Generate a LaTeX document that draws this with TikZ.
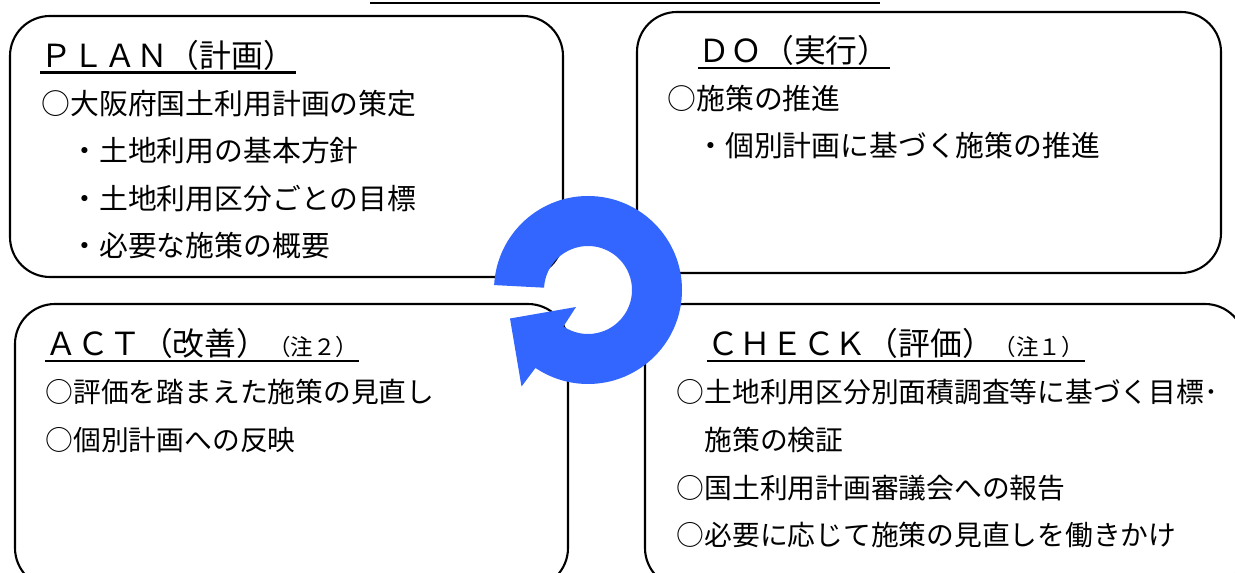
\documentclass[tikz,border=0pt]{standalone}
\usepackage{fontspec}
\setmainfont{Noto Sans CJK JP}
\definecolor{cycleBlue}{HTML}{3366FF}
\newcommand\remarkSize{\fontsize{12.8}{14}\selectfont}

\begin{document}
\begin{tikzpicture}[thick,
  box/.style={rectangle, draw, line width=1.2pt, rounded corners=0.8cm, inner sep=0pt},
  head/.style={rectangle, draw=none, inner sep=0pt, anchor=base west, font=\fontsize{18.1}{20}\selectfont},
  item/.style={rectangle, draw=none, inner sep=0pt, anchor=base west, font=\fontsize{16.4}{20}\selectfont},
  itemLow/.style={item, font=\fontsize{15.8}{19}\selectfont},
  underline/.style={line width=1.3pt}]
\useasboundingbox (0,0) rectangle (24.7,11.46);
%\draw[help lines, step=1cm] (0,0) grid +(24.7,11.46);
\draw[line width=1.5pt] (7.4,11.40) -- (17.6,11.40);
%%%%%%%%%%%%%%%%%%%%%%%%%%%%%%% PLAN
\node[box, minimum width=11.06cm, minimum height=5.22cm](boxPlan) at (5.73,8.53){};
\node[head](titlePlan) at (0.80,10.10){ＰＬＡＮ（計画）};
\draw[underline] ([yshift=-0.09cm]titlePlan.base west) -- ([yshift=-0.09cm]titlePlan.base east);
\node[item](planL1) at (0.82,9.17){○大阪府国土利用計画の策定};
\node[item](planL2) at (0.82,8.22){　・土地利用の基本方針};
\node[item](planL3) at (0.82,7.27){　・土地利用区分ごとの目標};
\node[item](planL4) at (0.82,6.32){　・必要な施策の概要};
%%%%%%%%%%%%%%%%%%%%%%%%%%%%%%% DO
\node[box, minimum width=11.68cm, minimum height=5.22cm](boxDo) at (18.58,8.61){};
\node[head](titleDo) at (13.96,10.20){ＤＯ（実行）};
\draw[underline] ([yshift=-0.1cm]titleDo.base west) -- ([yshift=-0.1cm]titleDo.base east);
\node[item](doL1) at (13.34,9.27){○施策の推進};
\node[item](doL2) at (13.34,8.32){　・個別計画に基づく施策の推進};
%%%%%%%%%%%%%%%%%%%%%%%%%%%%%%% ACT
\node[box, minimum width=11.06cm, minimum height=5.68cm](boxAct) at (5.83,2.54){};
\node[head](titleAct) at (0.90,4.34){ＡＣＴ（改善）{\remarkSize（注２）}};
\draw[underline] ([yshift=-0.1cm]titleAct.base west) -- ([yshift=-0.1cm]titleAct.base east);
\node[itemLow](actL1) at (0.90,3.40){○評価を踏まえた施策の見直し};
\node[itemLow](actL2) at (0.90,2.44){○個別計画への反映};
%%%%%%%%%%%%%%%%%%%%%%%%%%%%%%% CHECK
\node[box, minimum width=12.0cm, minimum height=5.68cm](boxCheck) at (18.9,2.54){};
\node[head](titleCheck) at (14.14,4.34){ＣＨＥＣＫ（評価）{\remarkSize（注１）}};
\draw[underline] ([yshift=-0.1cm]titleCheck.base west) -- ([yshift=-0.1cm]titleCheck.base east);
\node[itemLow](checkL1) at (13.52,3.40){○土地利用区分別面積調査等に基づく目標･};
\node[itemLow](checkL2) at (13.52,2.44){　施策の検証};
\node[itemLow](checkL3) at (13.52,1.48){○国土利用計画審議会への報告};
\node[itemLow](checkL4) at (13.52,0.54){○必要に応じて施策の見直しを働きかけ};
%%%%%%%%%%%%%%%%%%%%%%%%%%%%%%% cycle arrow
\fill[cycleBlue, shift={(11.76,5.66)}] (177:1.88) arc[start angle=177, end angle=-124, radius=1.88]
  -- (-1.33,-1.93) -- (-1.56,-0.57) -- (-0.24,-0.34) -- (-124:0.88)
  arc[start angle=-124, end angle=177, radius=0.88] -- cycle;
\end{tikzpicture}
\end{document}
